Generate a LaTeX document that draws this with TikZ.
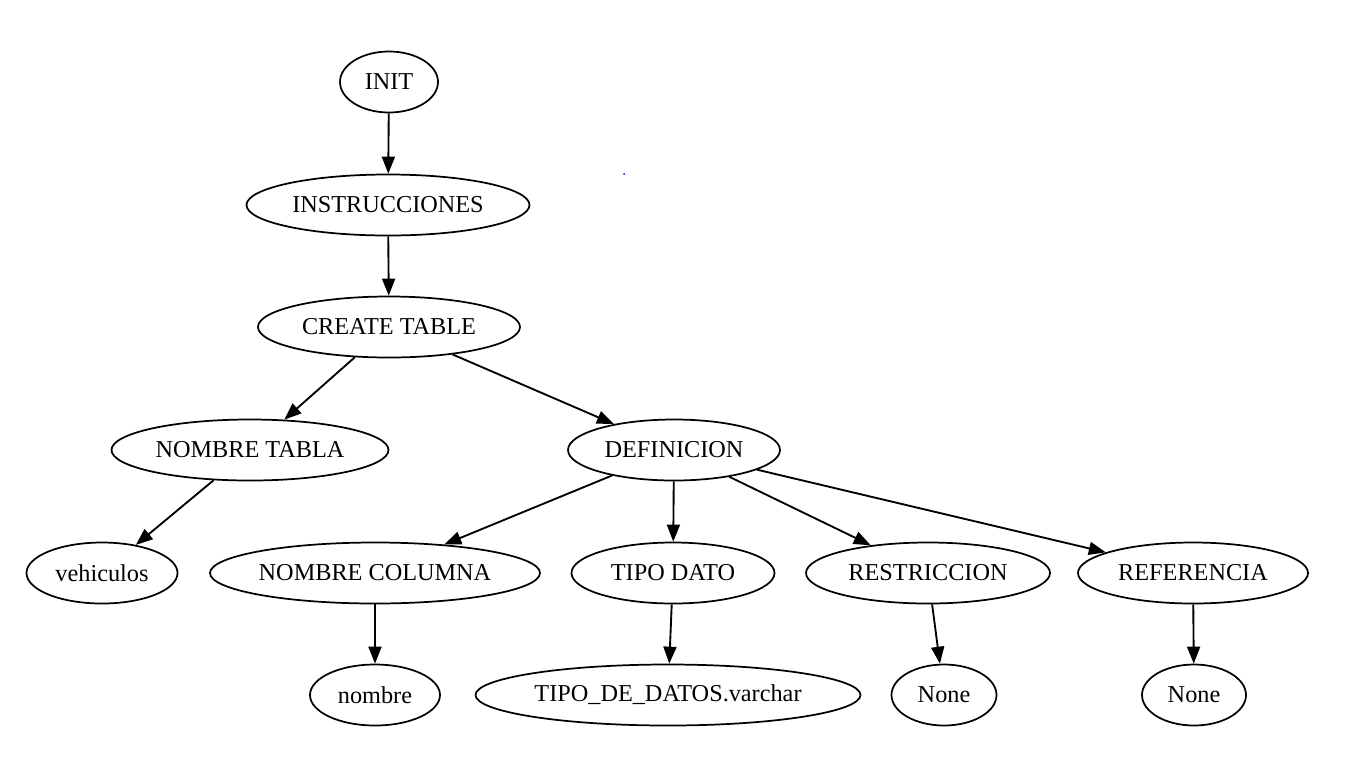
\documentclass[tikz,border=0pt]{standalone}
\usepackage{fontspec}
\setmainfont{Liberation Serif}
\usetikzlibrary{shapes.geometric,arrows.meta}

\begin{document}
\begin{tikzpicture}[x=0.75pt,y=-0.75pt,tree/.style={shape=ellipse,draw=black,line width=1.3pt,inner sep=0pt,minimum height=61*0.75pt,font=\fontsize{18.2}{20}\selectfont},edge/.style={line width=1.4pt,-{Triangle[length=17*0.75pt,width=13*0.75pt]}}]
\def\u{0.75pt}
\useasboundingbox (0,0) rectangle (1348,779);

\node[tree,minimum width=98*\u] (init) at (389,82) {INIT};
\node[tree,minimum width=283*\u] (instr) at (388,205) {INSTRUCCIONES};
\node[tree,minimum width=262*\u] (create) at (389,327) {CREATE TABLE};

\node[tree,minimum width=277*\u] (ntabla) at (250,450) {NOMBRE TABLA};
\node[tree,minimum width=212*\u] (defin) at (674,450) {DEFINICION};

\node[tree,minimum width=151*\u] (vehic) at (102,573) {vehiculos};
\node[tree,minimum width=330*\u] (ncol) at (375,573) {NOMBRE COLUMNA};
\node[tree,minimum width=203*\u] (tipo) at (673,573) {TIPO DATO};
\node[tree,minimum width=244*\u] (restr) at (928,573) {RESTRICCION};
\node[tree,minimum width=230*\u] (refer) at (1193,573) {REFERENCIA};

\node[tree,minimum width=130*\u] (nombre) at (375,695) {nombre};
\node[tree,minimum width=385*\u] (varchar) at (668,695) {TIPO\_DE\_DATOS.varchar};
\node[tree,minimum width=105*\u] (noneA) at (944,695) {None};
\node[tree,minimum width=104*\u] (noneB) at (1194,695) {None};

% stray dot
\fill[blue] (624,174) circle (1);

\draw[edge] (init) -- (instr);
\draw[edge] (instr) -- (create);
\draw[edge] (create) -- (ntabla);
\draw[edge] (create) -- (defin);
\draw[edge] (ntabla) -- (vehic);
\draw[edge] (defin) -- (ncol);
\draw[edge] (defin) -- (tipo);
\draw[edge] (defin) -- (restr);
\draw[edge] (defin) -- (refer);
\draw[edge] (ncol) -- (nombre);
\draw[edge] (tipo) -- (varchar);
\draw[edge] (restr) -- (noneA);
\draw[edge] (refer) -- (noneB);

\end{tikzpicture}
\end{document}
